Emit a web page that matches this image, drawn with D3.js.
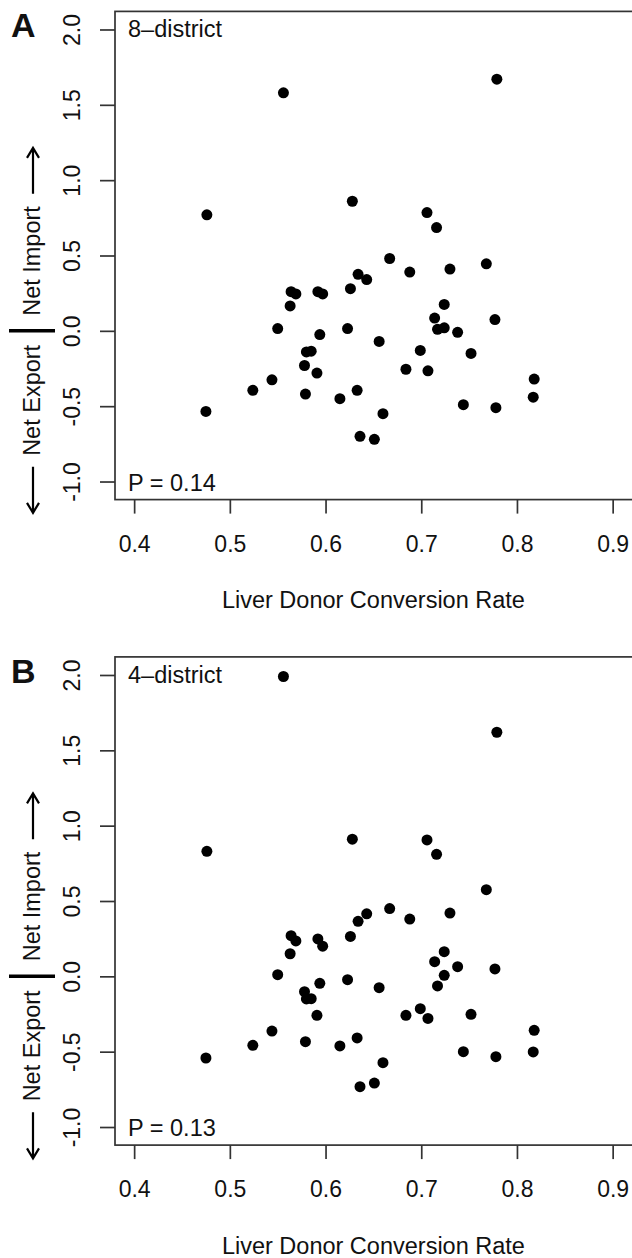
<!DOCTYPE html>
<html>
<head>
<meta charset="utf-8">
<script src="https://cdn.jsdelivr.net/npm/d3@7"></script>
<style>
  body { margin: 0; background: #fff; }
  svg { display: block; }
  text { font-family: "Liberation Sans", Arial, Helvetica, sans-serif; fill: #111; }
</style>
</head>
<body>
<script>
// liver donor conversion rate per OPO (same x for both panels)
const rate = [0.556, 0.779, 0.476, 0.628, 0.706, 0.716, 0.667, 0.688, 0.730, 0.768,
  0.634, 0.643, 0.626, 0.564, 0.569, 0.592, 0.597, 0.563, 0.550, 0.623,
  0.594, 0.656, 0.724, 0.714, 0.717, 0.724, 0.738, 0.777, 0.699, 0.752,
  0.580, 0.585, 0.578, 0.591, 0.684, 0.707, 0.544, 0.524, 0.633, 0.579,
  0.615, 0.818, 0.817, 0.744, 0.778, 0.475, 0.660, 0.636, 0.651];

// net import (+) / export (-) under the 8-district plan
const flow8 = [1.58, 1.67, 0.77, 0.86, 0.785, 0.685, 0.48, 0.39, 0.41, 0.445,
  0.375, 0.34, 0.28, 0.26, 0.245, 0.26, 0.245, 0.165, 0.015, 0.015,
  -0.025, -0.07, 0.175, 0.085, 0.01, 0.02, -0.01, 0.075, -0.13, -0.15,
  -0.14, -0.135, -0.23, -0.28, -0.255, -0.265, -0.325, -0.395, -0.395, -0.42,
  -0.45, -0.32, -0.44, -0.49, -0.51, -0.535, -0.55, -0.70, -0.72];

// same under the 4-district plan
const flow4 = [1.99, 1.62, 0.83, 0.91, 0.905, 0.81, 0.45, 0.38, 0.42, 0.575,
  0.365, 0.415, 0.265, 0.27, 0.235, 0.248, 0.20, 0.15, 0.011, -0.022,
  -0.046, -0.075, 0.164, 0.097, -0.064, 0.007, 0.064, 0.049, -0.215, -0.252,
  -0.150, -0.148, -0.102, -0.259, -0.259, -0.279, -0.363, -0.458, -0.409, -0.434,
  -0.462, -0.358, -0.502, -0.500, -0.533, -0.542, -0.573, -0.732, -0.708];

const xTicks = [0.4, 0.5, 0.6, 0.7, 0.8, 0.9];
const yTicks = [-1.0, -0.5, 0.0, 0.5, 1.0, 1.5, 2.0];
const panelLetters = ["A", "B"];
const panelNames = ["8\u2013district", "4\u2013district"];
const pValues = ["P = 0.14", "P = 0.13"];
const xTitle = "Liver Donor Conversion Rate";

const W = 632, H = 1258;
const boxL = 115, boxR = 632, boxT = 11.4, boxB = 499.6;
const panelStep = 645.5;
const ink = "#333";
const fs = 23.5;

const x = d3.scaleLinear().domain([0.38, 0.92]).range([boxL, 631.8]);
const y = d3.scaleLinear().domain([-1.12, 2.12]).range([boxB, boxT]);

const svg = d3.select("body").append("svg")
  .attr("width", W)
  .attr("height", H);

[flow8, flow4].forEach((flow, i) => {
  const g = svg.append("g").attr("transform", `translate(0,${i * panelStep})`);

  // box
  g.append("rect")
    .attr("x", boxL).attr("y", boxT)
    .attr("width", boxR - boxL + 2).attr("height", boxB - boxT)
    .attr("fill", "none").attr("stroke", ink).attr("stroke-width", 1.7);

  // x axis
  const xa = g.append("g")
    .attr("transform", `translate(0,${boxB})`)
    .call(d3.axisBottom(x).tickValues(xTicks).tickSize(14).tickFormat(d => d.toFixed(1)));
  xa.select(".domain").remove();
  xa.selectAll("line").attr("stroke", ink).attr("stroke-width", 1.7);
  xa.selectAll("text")
    .attr("y", 52.4).attr("dy", null)
    .attr("font-size", 23).attr("fill", "#111")
    .style("font-family", "'Liberation Sans', Arial, sans-serif");

  // y axis, labels rotated like R's default
  const ya = g.append("g")
    .attr("transform", `translate(${boxL},0)`)
    .call(d3.axisLeft(y).tickValues(yTicks).tickSize(15).tickFormat(d => d.toFixed(1)));
  ya.select(".domain").remove();
  ya.selectAll("line").attr("stroke", ink).attr("stroke-width", 1.7);
  ya.selectAll("text")
    .attr("x", null).attr("dy", null)
    .attr("transform", "translate(-35,0) rotate(-90)")
    .attr("text-anchor", "middle")
    .attr("font-size", 23).attr("fill", "#111")
    .style("font-family", "'Liberation Sans', Arial, sans-serif");

  // points
  g.append("g").selectAll("circle")
    .data(rate.map((r, k) => [r, flow[k]]))
    .enter().append("circle")
    .attr("cx", d => x(d[0]))
    .attr("cy", d => y(d[1]))
    .attr("r", 5.5)
    .attr("fill", "#000");

  // in-plot labels
  g.append("text")
    .attr("x", 128).attr("y", boxT + 26)
    .attr("font-size", fs)
    .text(panelNames[i]);
  g.append("text")
    .attr("x", 128).attr("y", boxB - 9)
    .attr("font-size", fs)
    .text(pValues[i]);

  // panel letter
  g.append("text")
    .attr("x", 11).attr("y", boxT + 26)
    .attr("font-size", 34).attr("font-weight", "bold")
    .attr("fill", "#000")
    .text(panelLetters[i]);

  // x title
  g.append("text")
    .attr("x", (boxL + 631.8) / 2).attr("y", 608)
    .attr("text-anchor", "middle")
    .attr("font-size", fs)
    .text(xTitle);

  // y title: <- Net Export | Net Import ->
  const y0 = y(0), lx = 40, ax = 33;
  g.append("line")
    .attr("x1", 9).attr("x2", 55).attr("y1", y0).attr("y2", y0)
    .attr("stroke", "#000").attr("stroke-width", 3.5);
  g.append("text")
    .attr("transform", `translate(${lx},${y0 + 14}) rotate(-90)`)
    .attr("text-anchor", "end")
    .attr("font-size", fs)
    .text("Net Export");
  g.append("text")
    .attr("transform", `translate(${lx},${y0 - 15}) rotate(-90)`)
    .attr("text-anchor", "start")
    .attr("font-size", fs)
    .text("Net Import");

  const downStart = y0 + 136, downEnd = downStart + 46;
  g.append("path")
    .attr("d", `M${ax},${downStart}V${downEnd}M${ax - 6},${downEnd - 10}L${ax},${downEnd}L${ax + 6},${downEnd - 10}`)
    .attr("fill", "none").attr("stroke", "#000").attr("stroke-width", 2.2);
  const upStart = y0 - 137, upEnd = upStart - 46;
  g.append("path")
    .attr("d", `M${ax},${upStart}V${upEnd}M${ax - 6},${upEnd + 10}L${ax},${upEnd}L${ax + 6},${upEnd + 10}`)
    .attr("fill", "none").attr("stroke", "#000").attr("stroke-width", 2.2);
});
</script>
</body>
</html>
